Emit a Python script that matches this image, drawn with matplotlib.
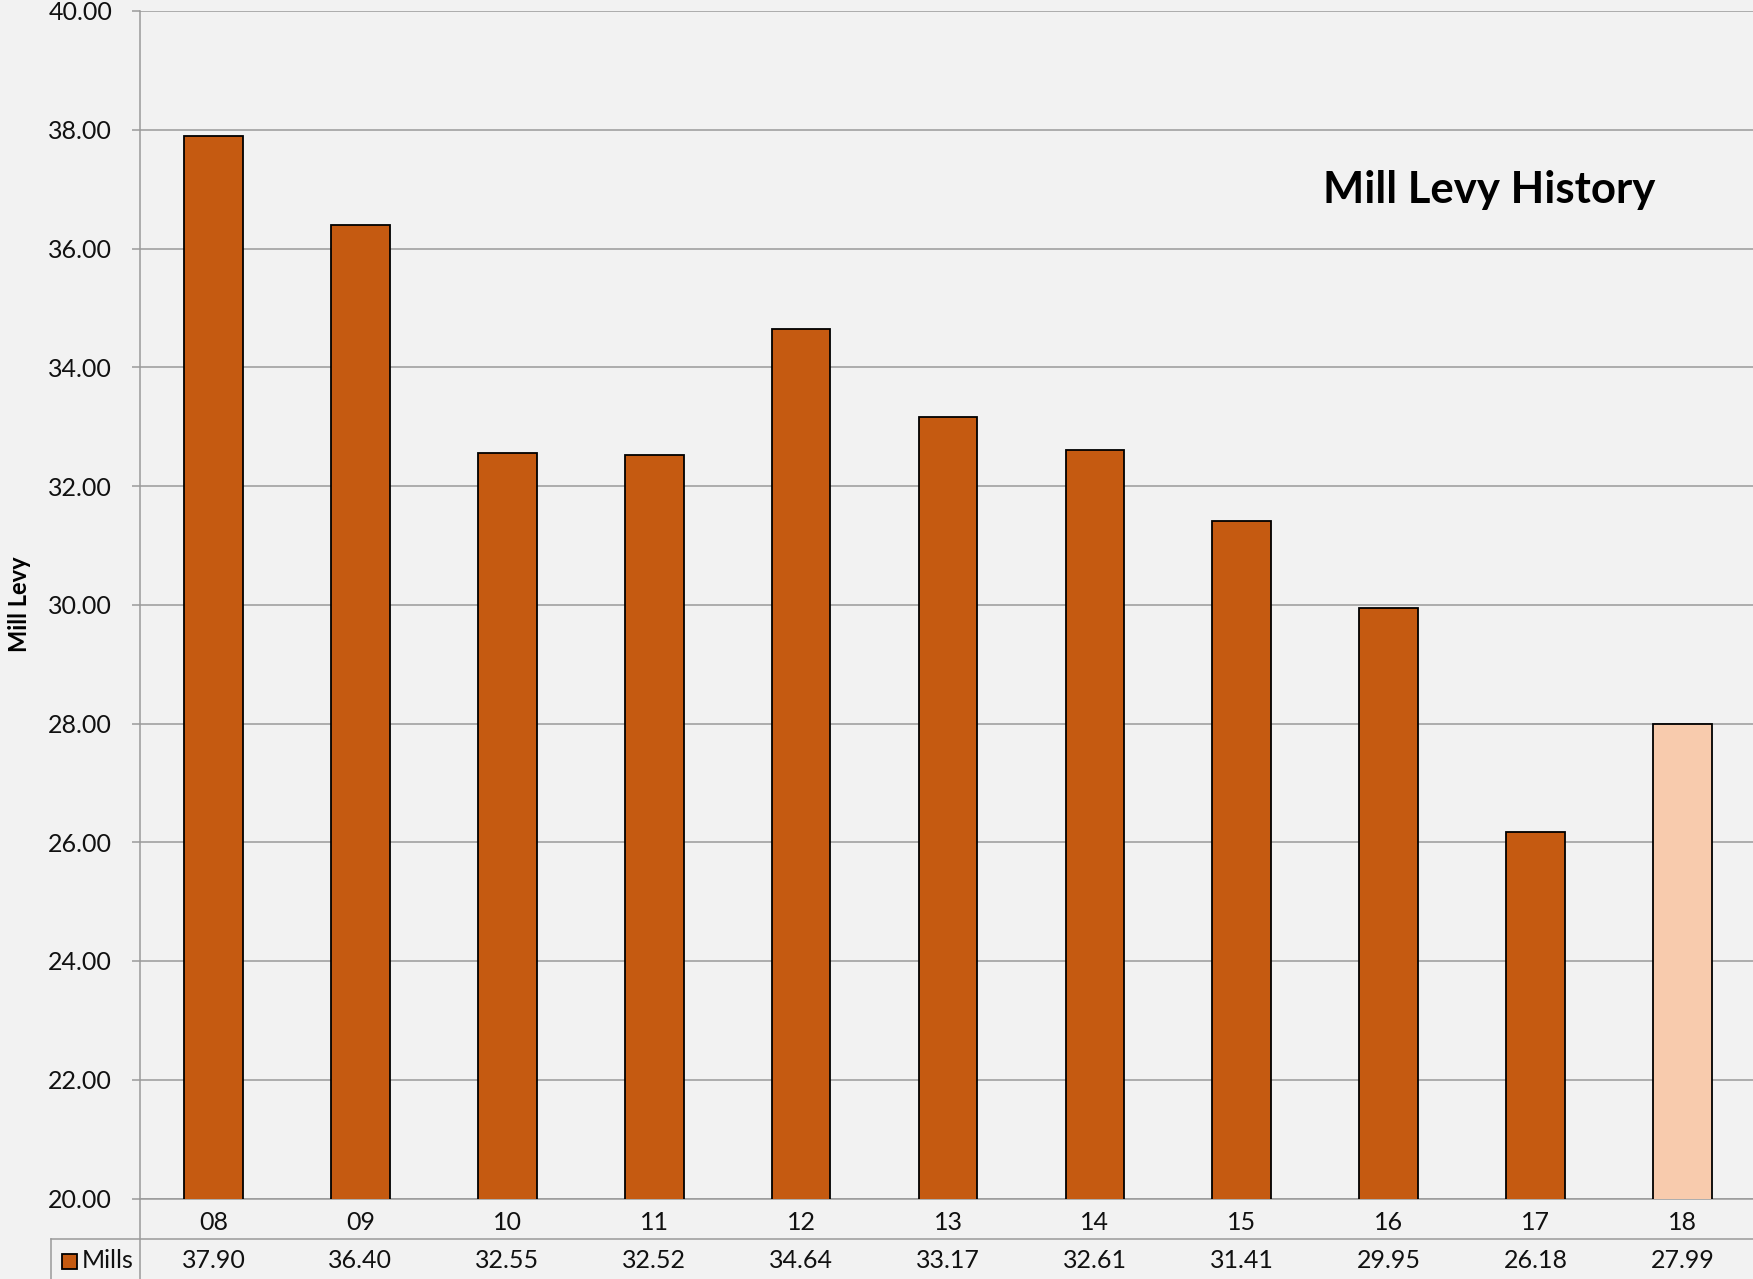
import matplotlib
matplotlib.use("Agg")
import matplotlib.pyplot as plt
from matplotlib.transforms import blended_transform_factory
from matplotlib.patches import Rectangle
from matplotlib.lines import Line2D

years = ["08", "09", "10", "11", "12", "13", "14", "15", "16", "17", "18"]
mills = [37.90, 36.40, 32.55, 32.52, 34.64, 33.17, 32.61, 31.41, 29.95, 26.18, 27.99]
series_name = "Mills"
title = "Mill Levy History"
ylabel = "Mill Levy"
yticks = [20, 22, 24, 26, 28, 30, 32, 34, 36, 38, 40]

plt.rcParams['font.family'] = ['Lato', 'DejaVu Sans']
W, H = 1753, 1279
bg = "#F2F2F2"
fs = 18
fig = plt.figure(figsize=(W / 100, H / 100), dpi=100, facecolor=bg)

left, right, top, bottom = 140, 1756, 11, 1198.5
ax = fig.add_axes([left / W, 1 - bottom / H, (right - left) / W, (bottom - top) / H])
ax.set_facecolor(bg)

colors = ["#C55A11"] * (len(years) - 1) + ["#F8CBAD"]
x = list(range(len(years)))
ax.bar(x, mills, width=0.40, color=colors, edgecolor="black", linewidth=1.3, zorder=3)

ax.set_xlim(-0.5, len(years) - 0.5)
ax.set_ylim(20, 40)
ax.set_yticks(yticks)
ax.set_yticklabels([f"{v:.2f}" for v in yticks], fontsize=fs, color="#111111")
ax.yaxis.grid(True, color="#9A9A9A", linewidth=1.1, zorder=0)
ax.tick_params(axis="y", length=6, color="#9A9A9A", width=1.1, pad=14)
ax.set_xticks(x)
ax.set_xticklabels(years, fontsize=fs, color="#111111")
ax.tick_params(axis="x", length=0, pad=9)

for s in ["top", "right"]:
    ax.spines[s].set_visible(False)
ax.spines["left"].set_color("#9A9A9A")
ax.spines["left"].set_linewidth(1.1)
ax.spines["bottom"].set_color("#9A9A9A")
ax.spines["bottom"].set_linewidth(1.1)

fig.text(1489 / W, 1 - 189.5 / H, title, fontsize=31.5, fontweight="bold",
         ha="center", va="center", color="black")
fig.text(20 / W, 1 - 604 / H, ylabel, fontsize=17, fontweight="bold",
         rotation=90, ha="center", va="center", color="black")

# data table
gray = "#9A9A9A"
y_line = 1 - 1239 / H
tl = 51
fig.add_artist(Line2D([tl / W, 1], [y_line, y_line], transform=fig.transFigure,
                      color=gray, linewidth=1.1))
fig.add_artist(Line2D([tl / W, tl / W], [0, y_line], transform=fig.transFigure,
                      color=gray, linewidth=1.1))
fig.add_artist(Line2D([left / W, left / W], [0, 1 - bottom / H], transform=fig.transFigure,
                      color=gray, linewidth=1.1))

trans = blended_transform_factory(ax.transData, fig.transFigure)
y_row = 1 - 1261 / H
for xi, v in zip(x, mills):
    fig.text(xi, y_row, f"{v:.2f}", transform=trans, fontsize=fs,
             ha="center", va="center", color="#111111")

fig.add_artist(Rectangle((62 / W, 1 - 1269 / H), 15 / W, 15 / H, transform=fig.transFigure,
                         facecolor="#C55A11", edgecolor="black", linewidth=1.3))
fig.text(82 / W, y_row, series_name, fontsize=fs, ha="left", va="center", color="#111111")

fig.savefig("out.png", dpi=100, facecolor=bg)
